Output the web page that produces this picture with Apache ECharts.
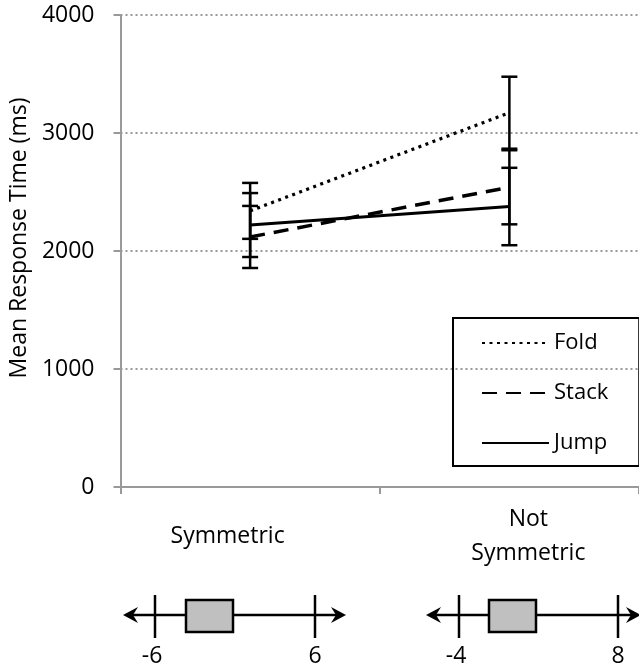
<!DOCTYPE html>
<html>
<head>
<meta charset="utf-8">
<script src="https://cdn.jsdelivr.net/npm/echarts@6/dist/echarts.min.js"></script>
<style>
html,body{margin:0;padding:0;background:#fff;}
#c{width:639px;height:667px;}
</style>
</head>
<body>
<div id="c"></div>
<script>
// ---- data ----
var categories = ['Symmetric', 'Not\nSymmetric'];
var seriesNames = ['Fold', 'Stack', 'Jump'];
var foldMean = [2340, 3172];
var foldErr = [237, 305];
var stackMean = [2119, 2540];
var stackErr = [263, 314];
var jumpMean = [2220, 2377];
var jumpErr = [271, 328];
var yTicks = [0, 1000, 2000, 3000, 4000];
var numberLineLabels = [['-6', '6'], ['-4', '8']];

var FONT = '"Open Sans", "DejaVu Sans", sans-serif';
var chart = echarts.init(document.getElementById('c'), null, {renderer: 'canvas'});

function errData(mean, err) {
  return categories.map(function (c, i) { return [i, mean[i], err[i]]; });
}
function errRender(params, api) {
  var x = api.value(0), m = api.value(1), e = api.value(2);
  var t = api.coord([x, m + e]), b = api.coord([x, m - e]);
  var hw = 8;
  var st = {stroke: '#000', lineWidth: 2.5};
  return {type: 'group', children: [
    {type: 'line', shape: {x1: t[0], y1: t[1], x2: b[0], y2: b[1]}, style: st},
    {type: 'line', shape: {x1: t[0] - hw, y1: t[1], x2: t[0] + hw, y2: t[1]}, style: st},
    {type: 'line', shape: {x1: b[0] - hw, y1: b[1], x2: b[0] + hw, y2: b[1]}, style: st}
  ]};
}

// number line illustrations (decorative)
function numberLine(x0, x1, t0, t1, b0, b1, labels) {
  var y = 615;
  var st = {stroke: '#000', lineWidth: 2.5};
  return [
    {type: 'line', shape: {x1: x0 + 4, y1: y, x2: x1 - 4, y2: y}, style: st},
    {type: 'polygon', shape: {points: [[x0, y], [x0 + 15, y - 8], [x0 + 10, y], [x0 + 15, y + 8]]}, style: {fill: '#000'}},
    {type: 'polygon', shape: {points: [[x1, y], [x1 - 15, y - 8], [x1 - 10, y], [x1 - 15, y + 8]]}, style: {fill: '#000'}},
    {type: 'line', shape: {x1: t0, y1: 595, x2: t0, y2: 638}, style: st},
    {type: 'line', shape: {x1: t1, y1: 595, x2: t1, y2: 638}, style: st},
    {type: 'rect', shape: {x: b0, y: 600, width: b1 - b0, height: 32}, style: {fill: '#c0c0c0', stroke: '#000', lineWidth: 2.5}},
    {type: 'text', style: {text: labels[0], x: t0 - 3, y: 656, align: 'center', verticalAlign: 'middle', font: '23px ' + FONT, fill: '#000'}},
    {type: 'text', style: {text: labels[1], x: t1, y: 656, align: 'center', verticalAlign: 'middle', font: '23px ' + FONT, fill: '#000'}}
  ];
}

var option = {
  backgroundColor: '#fff',
  animation: false,
  textStyle: {fontFamily: FONT},
  grid: {left: 118, top: 15, height: 472, width: 528, containLabel: false},
  xAxis: {
    type: 'category',
    data: categories,
    boundaryGap: true,
    axisLine: {lineStyle: {color: '#999', width: 2}},
    axisTick: {show: true, length: 7, lineStyle: {color: '#999', width: 2}},
    axisLabel: {
      interval: 0,
      margin: 49,
      verticalAlign: 'middle',
      color: '#000',
      fontSize: 23,
      lineHeight: 34,
      formatter: function (v, i) {
        if (i === 0) return '{a|' + v + '}';
        return v.split('\n').map(function (s) { return '{b|' + s + '}'; }).join('\n');
      },
      rich: {
        a: {fontSize: 23, lineHeight: 34, color: '#000', padding: [0, 45, 0, 0], fontFamily: FONT},
        b: {fontSize: 23, lineHeight: 34, color: '#000', padding: [0, 0, 0, 38], fontFamily: FONT}
      }
    }
  },
  yAxis: {
    type: 'value',
    min: 0, max: 4000, interval: 1000,
    name: 'Mean Response Time (ms)',
    nameLocation: 'middle',
    nameGap: 88,
    nameTextStyle: {fontSize: 23, color: '#000', padding: [0, 0, 0, 26], fontFamily: FONT},
    axisLine: {show: true, lineStyle: {color: '#999', width: 2}},
    axisTick: {show: true, length: 7, lineStyle: {color: '#999', width: 2}},
    axisLabel: {margin: 26, fontSize: 23, color: '#000', fontFamily: FONT,
      formatter: function (v) { return String(v); }},
    splitLine: {show: true, lineStyle: {color: '#999', width: 2, type: [2, 3]}}
  },
  legend: {
    orient: 'vertical',
    left: 453, top: 318,
    data: seriesNames,
    itemWidth: 67, itemHeight: 22, itemGap: 28,
    padding: [14, 31, 12, 28],
    borderColor: '#000', borderWidth: 2,
    itemStyle: {color: 'rgba(0,0,0,0)', borderColor: 'rgba(0,0,0,0)', borderWidth: 0, opacity: 0},
    textStyle: {fontSize: 22, color: '#000', lineHeight: 22, fontFamily: FONT},
    selectedMode: false
  },
  series: [
    {name: 'Fold', type: 'line', data: foldMean, symbol: 'none', z: 3,
     lineStyle: {color: '#000', width: 3.2, type: [3, 4.5]}, itemStyle: {color: '#000'}},
    {name: 'Stack', type: 'line', data: stackMean, symbol: 'none', z: 3,
     lineStyle: {color: '#000', width: 3.5, type: [15, 9]}, itemStyle: {color: '#000'}},
    {name: 'Jump', type: 'line', data: jumpMean, symbol: 'none', z: 3,
     lineStyle: {color: '#000', width: 3}, itemStyle: {color: '#000'}},
    {type: 'custom', renderItem: errRender, data: errData(foldMean, foldErr), z: 4},
    {type: 'custom', renderItem: errRender, data: errData(stackMean, stackErr), z: 4},
    {type: 'custom', renderItem: errRender, data: errData(jumpMean, jumpErr), z: 4}
  ],
  graphic: [].concat(
    numberLine(123, 346, 155, 315, 186, 233, numberLineLabels[0]),
    numberLine(426, 641, 459, 618, 489, 536, numberLineLabels[1])
  )
};
chart.setOption(option);
</script>
</body>
</html>
